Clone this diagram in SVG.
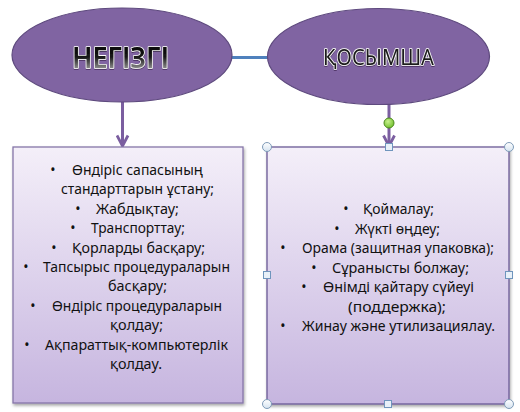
<svg xmlns="http://www.w3.org/2000/svg" width="520" height="412" viewBox="0 0 520 412">
<defs>
<style>
.ell{fill:#8064a2;stroke:#5e4a7e;stroke-width:1.2}
.box{stroke-width:1.3}
.t{font-family:"Noto Sans","DejaVu Sans",sans-serif;font-size:14.5px;fill:#111}
.b{font-family:"Noto Sans","DejaVu Sans",sans-serif;font-size:14px;fill:#111;text-anchor:middle}
.title{font-family:"Noto Sans","DejaVu Sans",sans-serif;stroke:#ffffff;stroke-width:1.6;paint-order:stroke fill;stroke-linejoin:round}
.conn{fill:none;stroke:#7b5ea0;stroke-width:3}
.hc{fill:url(#hg);stroke:#7f9bb8;stroke-width:1}
.hs{fill:#e8f0f8;stroke:#6f95bd;stroke-width:1}
</style>
<linearGradient id="bg" x1="0" y1="0" x2="0" y2="1">
<stop offset="0" stop-color="#f4eff9"/>
<stop offset="1" stop-color="#c6b5df"/>
</linearGradient>
<linearGradient id="tg" x1="0" y1="0" x2="0" y2="1">
<stop offset="0" stop-color="#000"/>
<stop offset="0.5" stop-color="#141414"/>
<stop offset="1" stop-color="#d8d8d8"/>
</linearGradient>
<linearGradient id="hg" x1="0" y1="0" x2="0" y2="1">
<stop offset="0" stop-color="#ffffff"/>
<stop offset="1" stop-color="#d5e3f0"/>
</linearGradient>
<radialGradient id="gg" cx="0.4" cy="0.35" r="0.7">
<stop offset="0" stop-color="#c8f08e"/>
<stop offset="1" stop-color="#6cbd28"/>
</radialGradient>
<filter id="sh" x="-5%" y="-5%" width="112%" height="112%">
<feDropShadow dx="1" dy="2" stdDeviation="1.5" flood-color="#000" flood-opacity="0.35"/>
</filter>
<filter id="ts" x="-10%" y="-20%" width="120%" height="150%">
<feDropShadow dx="0" dy="0.6" stdDeviation="0.7" flood-color="#1a1026" flood-opacity="0.9"/>
</filter>
<marker id="arr" viewBox="0 0 14 14" refX="12" refY="7" markerWidth="14" markerHeight="14" markerUnits="userSpaceOnUse" orient="auto">
<path d="M1.5,1.5 L12,7 L1.5,12.5" fill="none" stroke="#7b5ea0" stroke-width="2.8"/>
</marker>
</defs>

<g id="connectors">
<line x1="231" y1="57.5" x2="268" y2="57.5" stroke="#4f81bd" stroke-width="3"/>
<line class="conn" x1="122.5" y1="102" x2="122.5" y2="146" marker-end="url(#arr)"/>
<line class="conn" x1="389" y1="104" x2="389" y2="146" marker-end="url(#arr)"/>
</g>

<g id="node-negizgi">
<ellipse class="ell" cx="122" cy="55" rx="110" ry="47"/>
<text class="title" x="72" y="68" font-size="29" font-weight="600" textLength="97" lengthAdjust="spacingAndGlyphs" fill="url(#tg)" filter="url(#ts)">НЕГІЗГІ</text>
</g>

<g id="node-kosymsha">
<ellipse class="ell" cx="378.5" cy="56.5" rx="111" ry="48"/>
<text class="title" x="323" y="65" font-size="21" textLength="111" lengthAdjust="spacingAndGlyphs" fill="#1e1e1e" filter="url(#ts)">ҚОСЫМША</text>
</g>

<g id="node-left-list">
<rect class="box" x="13" y="147" width="230" height="256" fill="url(#bg)" stroke="#8676a8" filter="url(#sh)"/>
<text class="b" x="53" y="175">•</text>
<text class="t" x="72" y="175" textLength="131" lengthAdjust="spacingAndGlyphs">Өндіріс сапасының</text>
<text class="t" x="61" y="194.4" textLength="153" lengthAdjust="spacingAndGlyphs">стандарттарын ұстану;</text>
<text class="b" x="78" y="213.8">•</text>
<text class="t" x="96" y="213.8" textLength="83" lengthAdjust="spacingAndGlyphs">Жабдықтау;</text>
<text class="b" x="73" y="233.2">•</text>
<text class="t" x="91" y="233.2" textLength="94" lengthAdjust="spacingAndGlyphs">Транспорттау;</text>
<text class="b" x="54" y="252.6">•</text>
<text class="t" x="72" y="252.6" textLength="133" lengthAdjust="spacingAndGlyphs">Қорларды басқару;</text>
<text class="b" x="26" y="272">•</text>
<text class="t" x="43" y="272" textLength="187" lengthAdjust="spacingAndGlyphs">Тапсырыс процедураларын</text>
<text class="t" x="108" y="291.4" textLength="59" lengthAdjust="spacingAndGlyphs">басқару;</text>
<text class="b" x="33" y="310.8">•</text>
<text class="t" x="52" y="310.8" textLength="170" lengthAdjust="spacingAndGlyphs">Өндіріс процедураларын</text>
<text class="t" x="110" y="330.2" textLength="53" lengthAdjust="spacingAndGlyphs">қолдау;</text>
<text class="b" x="27" y="349.6">•</text>
<text class="t" x="45" y="349.6" textLength="183" lengthAdjust="spacingAndGlyphs">Ақпараттық-компьютерлік</text>
<text class="t" x="110" y="369" textLength="52" lengthAdjust="spacingAndGlyphs">қолдау.</text>
</g>

<g id="node-right-list">
<rect class="box" x="267" y="147" width="242" height="257" fill="url(#bg)" stroke="#6a5a96" filter="url(#sh)"/>
<text class="b" x="346" y="214">•</text>
<text class="t" x="363" y="214" textLength="71" lengthAdjust="spacingAndGlyphs">Қоймалау;</text>
<text class="b" x="337" y="233.5">•</text>
<text class="t" x="355" y="233.5" textLength="85" lengthAdjust="spacingAndGlyphs">Жүкті өңдеу;</text>
<text class="b" x="283" y="253">•</text>
<text class="t" x="302" y="253" textLength="192" lengthAdjust="spacingAndGlyphs">Орама (защитная упаковка);</text>
<text class="b" x="314" y="272.5">•</text>
<text class="t" x="332" y="272.5" textLength="137" lengthAdjust="spacingAndGlyphs">Сұранысты болжау;</text>
<text class="b" x="304" y="292">•</text>
<text class="t" x="323" y="292" textLength="151" lengthAdjust="spacingAndGlyphs">Өнімді қайтару сүйеуі</text>
<text class="t" x="348" y="311.5" textLength="98" lengthAdjust="spacingAndGlyphs">(поддержка);</text>
<text class="b" x="283" y="331">•</text>
<text class="t" x="302" y="331" textLength="193" lengthAdjust="spacingAndGlyphs">Жинау және утилизациялау.</text>
</g>

<g id="selection-handles">
<circle cx="389" cy="123" r="5" fill="url(#gg)" stroke="#4d8a1e" stroke-width="1"/>
<rect class="hs" x="385.5" y="143.5" width="7" height="7"/>
<rect class="hs" x="263.5" y="271.5" width="7" height="7"/>
<rect class="hs" x="505.5" y="271.5" width="7" height="7"/>
<rect class="hs" x="384.5" y="400.5" width="7" height="7"/>
<circle class="hc" cx="267" cy="147" r="4.5"/>
<circle class="hc" cx="509" cy="147" r="4.5"/>
<circle class="hc" cx="267" cy="404" r="4.5"/>
<circle class="hc" cx="509" cy="404" r="4.5"/>
</g>
</svg>
